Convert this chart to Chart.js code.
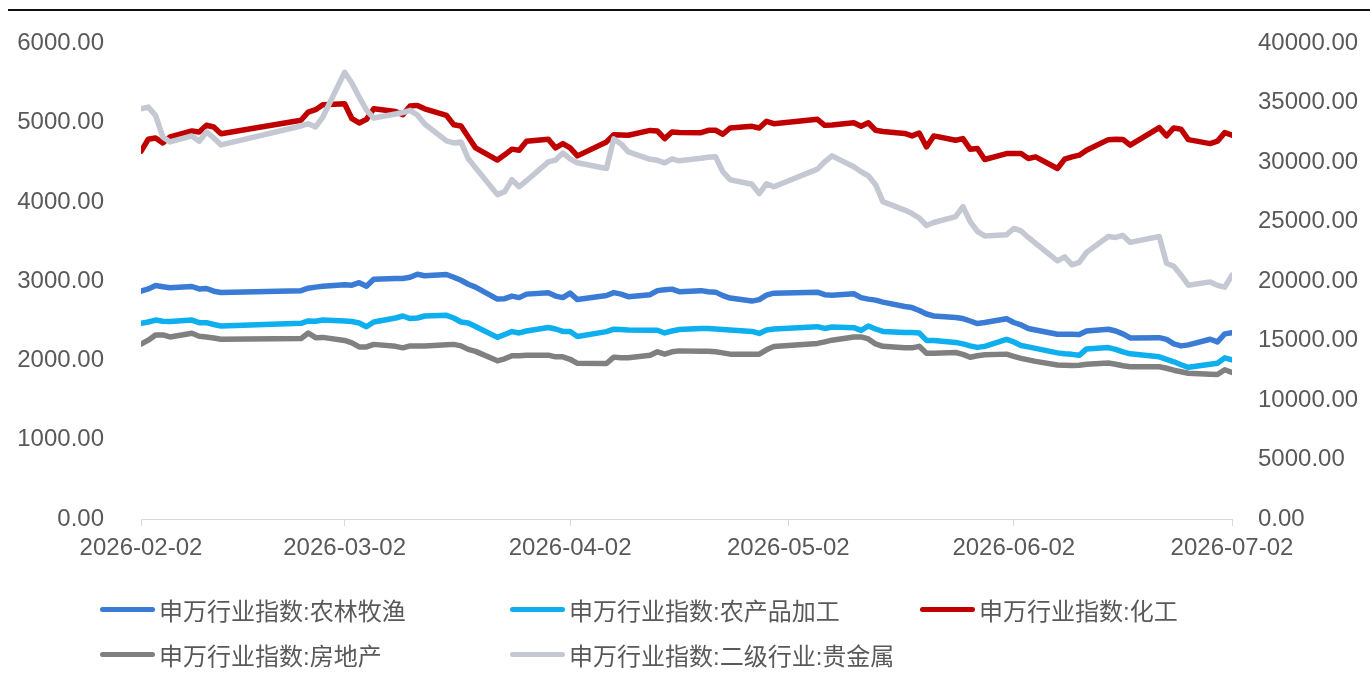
<!DOCTYPE html>
<html>
<head>
<meta charset="utf-8">
<script src="https://cdn.jsdelivr.net/npm/chart.js@4.4.1/dist/chart.umd.min.js"></script>
<style>
  html, body { margin: 0; padding: 0; background: #fff; }
  #wrap { position: relative; width: 1370px; height: 687px; overflow: hidden; }
  #topRule { position: absolute; left: 8px; top: 9px; width: 1362px; height: 2px; background: #111; }
  #legend { position: absolute; left: 0; top: 0; width: 1370px; height: 687px; pointer-events: none;
    font-family: "Liberation Sans", "Noto Sans CJK SC", sans-serif; font-size: 24px; color: #595959; }
  .item { position: absolute; display: flex; align-items: center; white-space: nowrap; }
  .swatch { width: 55px; height: 5px; border-radius: 3px; margin-right: 4px; }
</style>
</head>
<body>
<div id="wrap">
  <canvas id="chart" width="1370" height="687"></canvas>
  <div id="topRule"></div>
  <div id="legend"></div>
</div>
<script>
// trading days shown in the chart
const dates = [
  '2026-02-02','2026-02-03','2026-02-04','2026-02-05','2026-02-06',
  '2026-02-09','2026-02-10','2026-02-11','2026-02-12','2026-02-13',
  '2026-02-24','2026-02-25','2026-02-26','2026-02-27',
  '2026-03-02','2026-03-03','2026-03-04','2026-03-05','2026-03-06',
  '2026-03-09','2026-03-10','2026-03-11','2026-03-12','2026-03-13',
  '2026-03-16','2026-03-17','2026-03-18','2026-03-19','2026-03-20',
  '2026-03-23','2026-03-24','2026-03-25','2026-03-26','2026-03-27',
  '2026-03-30','2026-03-31',
  '2026-04-01','2026-04-02','2026-04-03',
  '2026-04-07','2026-04-08','2026-04-09','2026-04-10',
  '2026-04-13','2026-04-14','2026-04-15','2026-04-16','2026-04-17',
  '2026-04-20','2026-04-21','2026-04-22','2026-04-23','2026-04-24',
  '2026-04-27','2026-04-28','2026-04-29','2026-04-30',
  '2026-05-06','2026-05-07','2026-05-08',
  '2026-05-11','2026-05-12','2026-05-13','2026-05-14','2026-05-15',
  '2026-05-18','2026-05-19','2026-05-20','2026-05-21','2026-05-22',
  '2026-05-25','2026-05-26','2026-05-27','2026-05-28','2026-05-29',
  '2026-06-01','2026-06-02','2026-06-03','2026-06-04','2026-06-05',
  '2026-06-08','2026-06-09','2026-06-10','2026-06-11','2026-06-12',
  '2026-06-15','2026-06-16','2026-06-17','2026-06-18',
  '2026-06-22','2026-06-23','2026-06-24','2026-06-25','2026-06-26',
  '2026-06-29','2026-06-30','2026-07-01','2026-07-02'
];

const tickDates = ['2026-02-02','2026-03-02','2026-04-02','2026-05-02','2026-06-02','2026-07-02'];

const seriesNames = [
  '申万行业指数:农林牧渔',
  '申万行业指数:农产品加工',
  '申万行业指数:化工',
  '申万行业指数:房地产',
  '申万行业指数:二级行业:贵金属'
];

const nonglinmuyu = [
  2874,2903,2946,2931,2918, 2933,2903,2908,2874,2858, 2881,2912,2925,2937,
  2956,2950,2981,2937,3025, 3034,3034,3050,3088,3069, 3084,3050,3012,2962,2925, 2774,2780,2812,2793,2837, 2853,2812,
  2793,2849,2768, 2820,2856,2837,2805, 2830,2881,2893,2900,2868, 2881,2868,2862,2818,2787, 2749,2768,2824,2849,
  2862,2830,2824, 2841,2793,2774,2761,2736, 2680,2667,2630,2586,2561, 2542,2529,2498,2466,2479,
  2527,2479,2448,2404,2385, 2331,2331,2331,2328,2372, 2394,2372,2335,2284, 2288,2266,2209,2184,2197, 2268,2234,2335,2351
];

const nongchanpin = [
  2469,2485,2510,2494,2492, 2510,2477,2477,2454,2435, 2469,2498,2494,2510,
  2498,2492,2473,2426,2485, 2536,2561,2529,2536,2561, 2569,2536,2485,2473,2429, 2291,2328,2364,2347,2372, 2416,2397,
  2366,2366,2303, 2364,2395,2391,2385, 2382,2381,2347,2372,2391, 2404,2404,2397,2391,2385, 2366,2341,2385,2397,
  2426,2404,2423, 2414,2379,2435,2397,2366, 2353,2353,2347,2253,2253, 2228,2209,2184,2165,2178,
  2266,2234,2188,2171,2153, 2096,2084,2077,2065,2146, 2163,2140,2109,2084, 2046,2015,1983,1946,1914, 1952,1964,2033,2008
];

const huagong = [
  4640,4791,4807,4745,4820, 4895,4883,4967,4945,4861, 5030,5134,5163,5225,
  5238,5050,4996,5042,5175, 5142,5100,5209,5218,5175, 5092,4974,4958,4820,4682, 4528,4594,4666,4653,4766, 4791,4682,
  4736,4682,4581, 4757,4849,4845,4841, 4902,4895,4799,4883,4876, 4874,4904,4904,4854,4933, 4954,4933,5017,4987,
  5042,4967,4971, 4999,4954,4999,4904,4889, 4864,4833,4870,4694,4833, 4778,4799,4666,4673,4535,
  4610,4610,4610,4548,4569, 4422,4540,4569,4590,4653, 4786,4791,4789,4716, 4937,4833,4933,4917,4786, 4736,4766,4874,4841
];

const fangdichan = [
  2205,2256,2322,2322,2297, 2343,2306,2297,2284,2268, 2276,2347,2288,2291,
  2253,2222,2171,2171,2203, 2178,2159,2184,2184,2184, 2197,2203,2184,2140,2115, 1996,2021,2059,2059,2065, 2067,2046,
  2046,2015,1964, 1962,2042,2033,2033, 2065,2109,2080,2109,2121, 2115,2115,2109,2096,2080, 2080,2080,2134,2175,
  2215,2234,2256, 2297,2297,2272,2209,2178, 2159,2159,2178,2090,2090, 2100,2077,2040,2059,2071,
  2080,2052,2027,2008,1989, 1942,1939,1937,1939,1952, 1967,1952,1933,1920, 1920,1902,1877,1858,1839, 1826,1823,1883,1849
];

// right axis
const guijinshu = [
  34501,34644,33949,32133,31715, 32217,31773,32552,32049,31464, 33054,33246,32970,33807,
  37572,36652,35480,34392,33723, 34058,34183,34367,33974,33221, 31798,31631,31715,30292,29539, 27280,27531,28535,27949,28451, 30041,30184,
  30794,30292,29957, 29480,31966,31547,30878, 30250,30167,29957,30292,30125, 30334,30418,30460,29204,28535, 28158,27363,28200,27949,
  29430,30041,30543, 29623,29204,28870,28116,26694, 25983,25690,25313,24686,24937, 25439,26276,25020,24184,23807,
  23907,24435,24225,23681,23179, 21715,22050,21380,21589,22426, 23765,23681,23849,23263, 23765,21506,21255,20502,19665, 19941,19648,19497,20502
];

const colors = ['#3A7BD5', '#0EAFEE', '#C00000', '#808080', '#C3C8D3'];

const DAY = 86400000;
const start = Date.UTC(2026, 1, 2);
function dayOf(s) {
  const [y, m, d] = s.split('-').map(Number);
  return (Date.UTC(y, m - 1, d) - start) / DAY;
}
const xs = dates.map(dayOf);
const tickDays = tickDates.map(dayOf);

function pts(values) {
  return values.map((v, i) => ({ x: xs[i], y: v }));
}

const allValues = [nonglinmuyu, nongchanpin, huagong, fangdichan, guijinshu];
const axisOf = ['yL', 'yL', 'yL', 'yL', 'yR'];
const drawOrder = [4, 3, 2, 1, 0];

const datasets = allValues.map((vals, i) => ({
  label: seriesNames[i],
  data: pts(vals),
  yAxisID: axisOf[i],
  borderColor: colors[i],
  backgroundColor: colors[i],
  borderWidth: 5.5,
  pointRadius: 0,
  tension: 0,
  borderJoinStyle: 'round',
  borderCapStyle: 'round',
  order: drawOrder[i]
}));

const font = { family: '"Liberation Sans", Arial, sans-serif', size: 24 };
const textColor = '#595959';

new Chart(document.getElementById('chart'), {
  type: 'line',
  data: { datasets },
  options: {
    responsive: false,
    animation: false,
    devicePixelRatio: 1,
    layout: { padding: { top: 41, left: 0, right: 0, bottom: 0 } },
    plugins: { legend: { display: false }, tooltip: { enabled: false } },
    scales: {
      x: {
        type: 'linear',
        min: 0,
        max: 150,
        afterBuildTicks: (s) => { s.ticks = tickDays.map(v => ({ value: v })); },
        afterFit: (s) => { s.height = 168; },
        ticks: {
          autoSkip: false,
          maxRotation: 0,
          padding: 8,
          color: textColor,
          font,
          callback: (v) => tickDates[tickDays.indexOf(v)]
        },
        grid: { drawOnChartArea: false, drawTicks: true, tickLength: 7, color: '#D9D9D9' },
        border: { color: '#D9D9D9', width: 1 }
      },
      yL: {
        position: 'left',
        min: 0,
        max: 6000,
        afterFit: (s) => { s.width = 141; },
        ticks: { stepSize: 1000, padding: 29, color: textColor, font, callback: (v) => v.toFixed(2) },
        grid: { display: false },
        border: { display: false }
      },
      yR: {
        position: 'right',
        min: 0,
        max: 40000,
        afterFit: (s) => { s.width = 138; },
        ticks: { stepSize: 5000, padding: 18, color: textColor, font, callback: (v) => v.toFixed(2) },
        grid: { display: false },
        border: { display: false }
      }
    }
  }
});

// legend laid out in two rows like the original
const legendSlots = [[100, 609], [510, 609], [920, 609], [100, 654], [510, 654]];
const legend = document.getElementById('legend');
seriesNames.forEach((name, i) => {
  const item = document.createElement('div');
  item.className = 'item';
  item.style.left = legendSlots[i][0] + 'px';
  item.style.top = (legendSlots[i][1] - 15) + 'px';
  item.style.height = '30px';
  item.innerHTML = '<span class="swatch" style="background:' + colors[i] + '"></span><span>' + name + '</span>';
  legend.appendChild(item);
});
</script>
</body>
</html>
